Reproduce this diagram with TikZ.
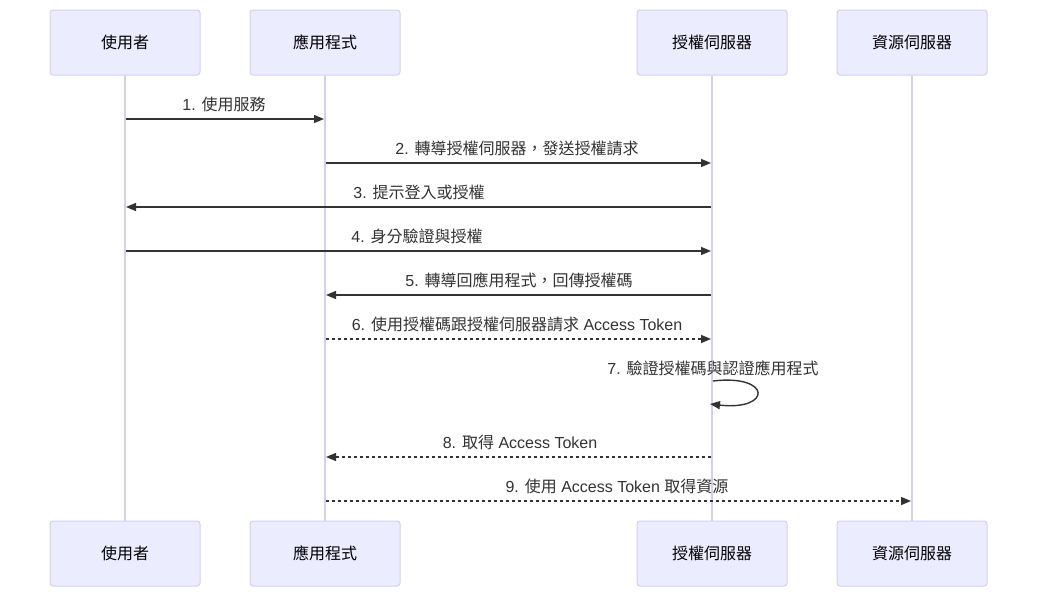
\documentclass[tikz,border=0pt]{standalone}
\usepackage{fontspec}
\setmainfont{Liberation Sans}
\newfontfamily\cjk{Noto Sans CJK TC}
\usetikzlibrary{arrows.meta}
\definecolor{actfill}{HTML}{ECECFF}
\definecolor{actline}{HTML}{D2D0F2}
\definecolor{msg}{HTML}{333333}
\newcommand{\zh}[1]{{\cjk #1}}
\begin{document}
\begin{tikzpicture}[x=1pt,y=-1pt,
  actor/.style={draw=actline,fill=actfill,line width=1pt,rounded corners=3pt,
    minimum width=150pt,minimum height=65pt,inner sep=0pt,
    font=\fontsize{16}{19}\selectfont,text=black},
  life/.style={draw=actline,line width=1.2pt},
  msgline/.style={draw=msg,line width=1.4pt,-{Triangle[length=10pt,width=8pt]}},
  dashmsg/.style={msgline,dash pattern=on 3pt off 3pt},
  lbl/.style={font=\fontsize{16}{19}\selectfont,text=msg,inner sep=0pt}]
\useasboundingbox[fill=white] (0,0) rectangle (1037,597);
% actors
\node[actor] (ut) at (125,42.5) {\zh{使用者}};
\node[actor] (at) at (325,42.5) {\zh{應用程式}};
\node[actor] (st) at (712,42.5) {\zh{授權伺服器}};
\node[actor] (rt) at (912,42.5) {\zh{資源伺服器}};
\node[actor] (ub) at (125,553.5) {\zh{使用者}};
\node[actor] (ab) at (325,553.5) {\zh{應用程式}};
\node[actor] (sb) at (712,553.5) {\zh{授權伺服器}};
\node[actor] (rb) at (912,553.5) {\zh{資源伺服器}};
\begin{scope}[on background layer/.try]
\draw[life] (ut.south) -- (ub.north);
\draw[life] (at.south) -- (ab.north);
\draw[life] (st.south) -- (sb.north);
\draw[life] (rt.south) -- (rb.north);
\end{scope}
% message endpoints
\coordinate (m1a) at (126,119); \coordinate (m1b) at (324,119);
\coordinate (m2a) at (326,163); \coordinate (m2b) at (711,163);
\coordinate (m3a) at (711,207); \coordinate (m3b) at (126,207);
\coordinate (m4a) at (126,251); \coordinate (m4b) at (711,251);
\coordinate (m5a) at (711,295); \coordinate (m5b) at (326,295);
\coordinate (m6a) at (326,339); \coordinate (m6b) at (711,339);
\coordinate (m7a) at (713,381); \coordinate (m7b) at (710,404);
\coordinate (m8a) at (711,457); \coordinate (m8b) at (326,457);
\coordinate (m9a) at (326,501); \coordinate (m9b) at (911,501);
% labels
\node[lbl] (l1) at (224,104) {1. \zh{使用服務}};
\node[lbl] (l2) at (517,148) {2. \zh{轉導授權伺服器，發送授權請求}};
\node[lbl] (l3) at (419,192) {3. \zh{提示登入或授權}};
\node[lbl] (l4) at (417,236) {4. \zh{身分驗證與授權}};
\node[lbl] (l5) at (519,280) {5. \zh{轉導回應用程式，回傳授權碼}};
\node[lbl] (l6) at (517,324) {6. \zh{使用授權碼跟授權伺服器請求} Access Token};
\node[lbl] (l7) at (713,368) {7. \zh{驗證授權碼與認證應用程式}};
\node[lbl] (l8) at (520,442) {8. \zh{取得} Access Token};
\node[lbl] (l9) at (617,486) {9. \zh{使用} Access Token \zh{取得資源}};
% messages
\draw[msgline] (m1a) -- (m1b);
\draw[msgline] (m2a) -- (m2b);
\draw[msgline] (m3a) -- (m3b);
\draw[msgline] (m4a) -- (m4b);
\draw[msgline] (m5a) -- (m5b);
\draw[dashmsg] (m6a) -- (m6b);
\draw[msgline] (m7a) .. controls (772,374) and (772,411) .. (m7b);
\draw[dashmsg] (m8a) -- (m8b);
\draw[dashmsg] (m9a) -- (m9b);
\end{tikzpicture}
\end{document}
